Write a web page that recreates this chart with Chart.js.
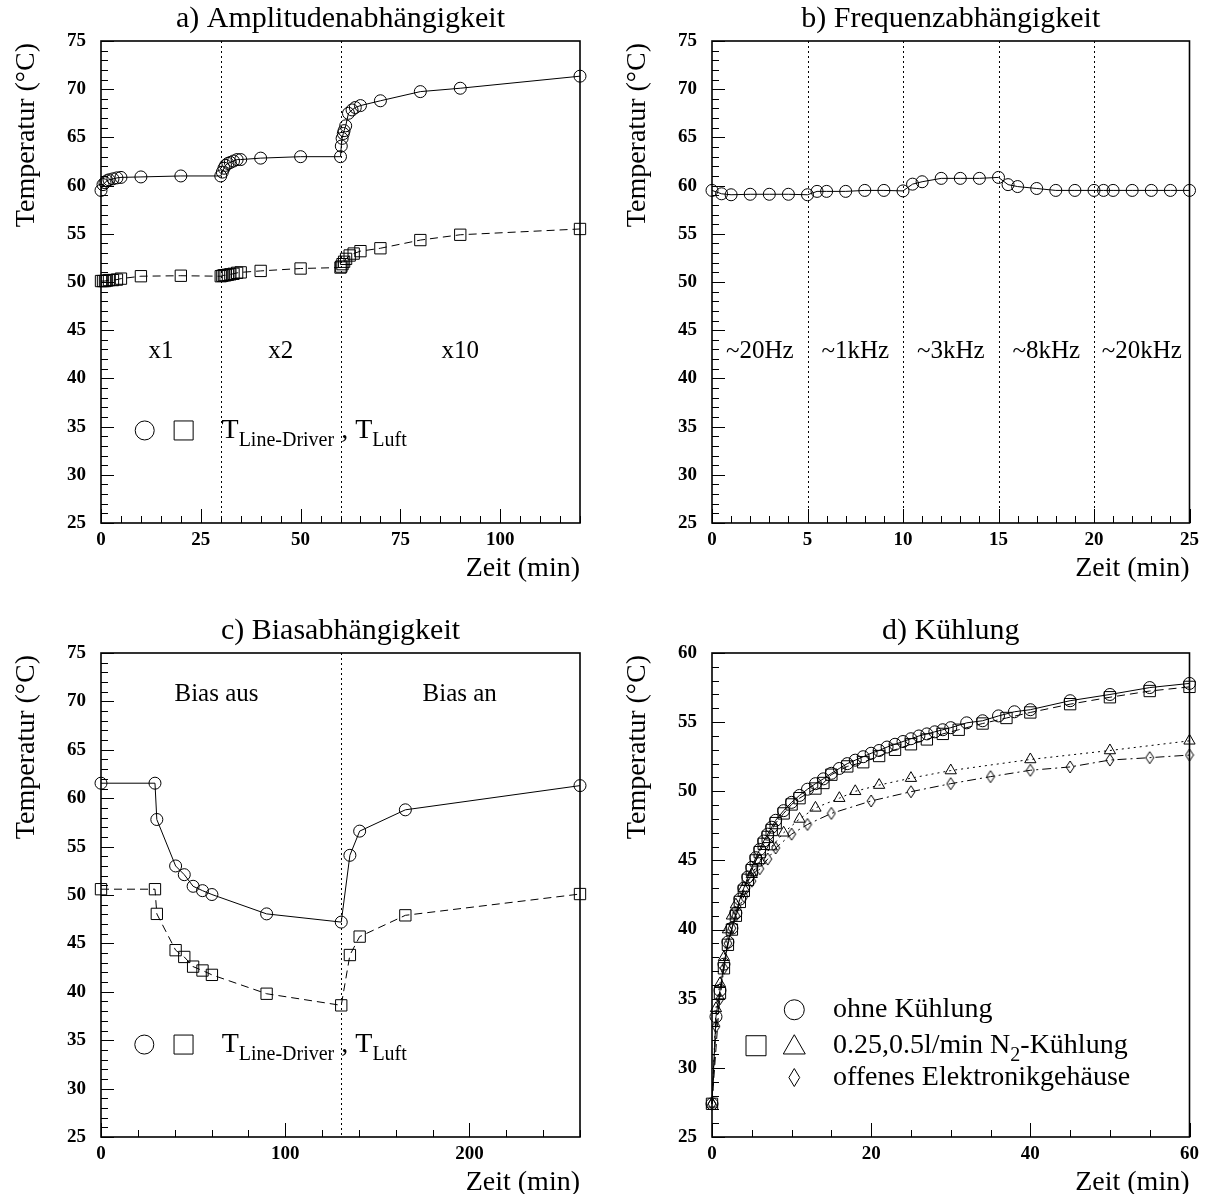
<!DOCTYPE html>
<html><head><meta charset="utf-8">
<script src="https://cdn.jsdelivr.net/npm/chart.js@4.4.1/dist/chart.umd.min.js"></script>
<style>
html,body{margin:0;padding:0;background:#fff;}
#wrap{position:relative;width:1205px;height:1194px;background:#fff;}
canvas{position:absolute;left:0;top:0;}
</style></head><body>
<div id="wrap">
<canvas id="ca" width="1205" height="1194"></canvas>
<canvas id="cb" width="1205" height="1194"></canvas>
<canvas id="cc" width="1205" height="1194"></canvas>
<canvas id="cd" width="1205" height="1194"></canvas>
</div>
<script>
// ---------- Panel a: Amplitudenabhaengigkeit ----------
const aTimeDriver = [0,0.5,1,1.5,2,3,4,5,10,20,30,30.4,30.8,31.2,31.8,32.4,33.2,34.1,35,40,50,60,60.2,60.4,60.7,60.9,61.3,62,62.9,63.7,65,70,80,90,120];
const aTempDriver = [59.5,60.1,60.3,60.5,60.6,60.7,60.8,60.85,60.9,61.0,61.0,61.4,61.8,62.1,62.3,62.4,62.55,62.7,62.7,62.85,63.0,63.0,64.1,64.9,65.4,65.7,66.2,67.5,67.85,68.1,68.3,68.8,69.75,70.1,71.35];
const aTimeLuft = [0,0.5,1,1.5,2,3,4,5,10,20,30,30.4,30.8,31.2,31.8,32.4,33.2,34.1,35,40,50,60,60.2,60.5,60.9,61.4,62.3,63.3,65,70,80,90,120];
const aTempLuft = [50.1,50.1,50.1,50.15,50.2,50.2,50.25,50.35,50.6,50.65,50.6,50.65,50.7,50.7,50.75,50.8,50.85,50.95,51.0,51.15,51.4,51.5,51.6,51.85,52.1,52.4,52.75,52.95,53.2,53.5,54.35,54.9,55.5];
const aPhaseLines = [30,60];
const aPhaseLabels = ['x1','x2','x10'];
const aPhaseLabelX = [15,45,90];

// ---------- Panel b: Frequenzabhaengigkeit ----------
const bTime = [0,0.5,1,2,3,4,5,5.5,6,7,8,9,10,10.5,11,12,13,14,15,15.5,16,17,18,19,20,20.5,21,22,23,24,25];
const bTemp = [59.5,59.15,59.05,59.1,59.1,59.1,59.05,59.4,59.4,59.4,59.5,59.5,59.45,60.15,60.4,60.75,60.75,60.75,60.85,60.1,59.9,59.7,59.5,59.5,59.5,59.5,59.5,59.5,59.5,59.5,59.5];
const bPhaseLines = [5,10,15,20];
const bPhaseLabels = ['~20Hz','~1kHz','~3kHz','~8kHz','~20kHz'];
const bPhaseLabelX = [2.5,7.5,12.5,17.5,22.5];

// ---------- Panel c: Biasabhaengigkeit ----------
const cTime = [0,29.3,30.3,40.5,45.2,50,55.1,60.2,89.9,130.4,135.1,140.4,165.2,260];
const cTempDriver = [61.55,61.55,57.8,53.0,52.1,50.9,50.45,50.05,48.05,47.2,54.1,56.6,58.8,61.3];
const cTempLuft = [50.6,50.6,48.05,44.3,43.6,42.6,42.2,41.75,39.8,38.6,43.8,45.7,47.9,50.1];
const cPhaseLines = [130];
const cPhaseLabels = ['Bias aus','Bias an'];
const cPhaseLabelX = [62.7,194.7];

// ---------- Panel d: Kuehlung ----------
const dTimeOhne = [0,0.5,1,1.5,2,2.5,3,3.5,4,4.5,5,5.5,6,6.5,7,7.5,8,9,10,11,12,13,14,15,16,17,18,19,20,21,22,23,24,25,26,27,28,29,30,32,34,36,38,40,45,50,55,60];
const dTempOhne = [27.4,33.7,35.6,37.5,39.1,40.1,41.2,42.2,43.0,43.8,44.5,45.2,45.8,46.4,46.9,47.4,47.9,48.6,49.2,49.7,50.15,50.55,50.9,51.3,51.65,52.0,52.25,52.5,52.75,52.95,53.2,53.4,53.6,53.8,54.0,54.15,54.3,54.45,54.6,54.95,55.1,55.45,55.75,55.9,56.55,57.0,57.5,57.8];
const dTimeN2a = [0,1,1.5,2,2.5,3,3.5,4,4.5,5,5.5,6,6.5,7,7.5,8,9,10,11,13,14,15,17,19,21,23,25,27,29,31,34,37,40,45,50,55,60];
const dTempN2a = [27.4,35.4,37.2,38.9,40.0,41.0,42.0,42.8,43.6,44.3,45.0,45.6,46.2,46.7,47.2,47.7,48.4,49.05,49.5,50.2,50.6,51.2,51.8,52.1,52.55,53.0,53.4,53.75,54.15,54.45,54.9,55.3,55.7,56.3,56.8,57.25,57.55];
const dTimeN2b = [0,0.5,1,1.5,2,2.5,3,4,5,6,7.5,9,11,13,16,18,21,25,30,40,50,60];
const dTempN2b = [27.4,34.3,36.1,38.0,40.0,41.0,41.8,43.0,44.0,45.0,46.0,47.0,48.0,48.8,49.5,50.0,50.45,50.95,51.5,52.3,52.95,53.65];
const dTimeOffen = [0,0.5,1,1.5,2,2.5,3,4,5,6,7,8,10,12,15,20,25,30,35,40,45,50,55,60];
const dTempOffen = [27.4,33.0,35.0,37.2,39.0,40.1,41.0,42.4,43.5,44.4,45.1,45.9,46.9,47.6,48.4,49.3,49.97,50.55,51.06,51.52,51.76,52.26,52.43,52.62];
const dLegendLabels = ['ohne Kühlung','0.25,0.5l/min N','2','-Kühlung','offenes Elektronikgehäuse'];

const titles = ['a) Amplitudenabhängigkeit','b) Frequenzabhängigkeit','c) Biasabhängigkeit','d) Kühlung'];
const yTitle = 'Temperatur (°C)';
const xTitle = 'Zeit (min)';

// ---------- helpers ----------
const FONT = "'Liberation Serif','Times New Roman',serif";
const W = 1205, H = 1194, YW = 60, XH = 40;
const pts = (xs, ys) => xs.map((x, i) => ({x, y: ys[i]}));

function diamondImg(w, h){
  const c = document.createElement('canvas');
  c.width = w + 2; c.height = h + 2;
  const g = c.getContext('2d');
  g.strokeStyle = '#000'; g.lineWidth = 1;
  g.beginPath();
  g.moveTo(c.width/2, 1); g.lineTo(c.width-1, c.height/2);
  g.lineTo(c.width/2, c.height-1); g.lineTo(1, c.height/2);
  g.closePath(); g.stroke();
  return c;
}
const diamondPt = diamondImg(8, 12);

function series(data, style, radius, dash, extra){
  return Object.assign({
    data, showLine: true, borderColor: '#000', borderWidth: 1, borderDash: dash || [],
    pointStyle: style, pointRadius: radius, pointBorderColor: '#000', pointBorderWidth: 1,
    pointBackgroundColor: 'rgba(0,0,0,0)', tension: 0, clip: false
  }, extra || {});
}

function drawMarker(ctx, kind, x, y, s){
  ctx.beginPath();
  if (kind === 'circle') ctx.arc(x, y, s, 0, Math.PI*2);
  else if (kind === 'square') ctx.rect(x - s, y - s, 2*s, 2*s);
  else if (kind === 'triangle') { ctx.moveTo(x, y - s); ctx.lineTo(x + s*1.0, y + s*0.75); ctx.lineTo(x - s*1.0, y + s*0.75); ctx.closePath(); }
  else if (kind === 'diamond') { ctx.moveTo(x, y - s); ctx.lineTo(x + s*0.6, y); ctx.lineTo(x, y + s); ctx.lineTo(x - s*0.6, y); ctx.closePath(); }
  ctx.stroke();
}

function drawRich(ctx, parts, x, y){
  let cx = x;
  parts.forEach(p => {
    ctx.font = (p.sub ? 20 : 28) + 'px ' + FONT;
    ctx.fillText(p.t, cx, p.sub ? y + 10 : y);
    cx += ctx.measureText(p.t).width;
  });
}

const decorPlugin = {
  id: 'decor',
  beforeDatasetsDraw(chart, args, o){
    const {ctx, chartArea: a, scales: {x}} = chart;
    ctx.save();
    ctx.strokeStyle = '#000'; ctx.lineWidth = 1; ctx.setLineDash([2, 3]);
    (o.vlines || []).forEach(v => {
      const px = Math.round(x.getPixelForValue(v)) + 0.5;
      ctx.beginPath(); ctx.moveTo(px, a.top); ctx.lineTo(px, a.bottom); ctx.stroke();
    });
    ctx.restore();
  },
  afterDatasetsDraw(chart, args, o){
    const {ctx, chartArea: a, scales: {x, y}} = chart;
    ctx.save();
    ctx.strokeStyle = '#000'; ctx.fillStyle = '#000'; ctx.setLineDash([]);
    // frame
    ctx.lineWidth = 1.6;
    ctx.strokeRect(a.left, a.top, a.right - a.left, a.bottom - a.top);
    // ticks
    ctx.lineWidth = 1;
    const nY = Math.round((y.max - y.min) / o.yMinor);
    for (let i = 0; i <= nY; i++){
      const v = y.min + i * o.yMinor;
      const maj = Math.abs(v / o.yMajor - Math.round(v / o.yMajor)) < 1e-6;
      const py = Math.round(y.getPixelForValue(v)) + 0.5;
      ctx.beginPath(); ctx.moveTo(a.left, py); ctx.lineTo(a.left + (maj ? 13 : 7), py); ctx.stroke();
    }
    const nX = Math.round((x.max - x.min) / o.xMinor);
    for (let i = 0; i <= nX; i++){
      const v = x.min + i * o.xMinor;
      const maj = Math.abs(v / o.xMajor - Math.round(v / o.xMajor)) < 1e-6;
      const px = Math.round(x.getPixelForValue(v)) + 0.5;
      ctx.beginPath(); ctx.moveTo(px, a.bottom); ctx.lineTo(px, a.bottom - (maj ? 14 : 7)); ctx.stroke();
    }
    // annotation texts
    ctx.font = '25px ' + FONT; ctx.textAlign = 'center'; ctx.textBaseline = 'middle';
    (o.labels || []).forEach((t, i) => {
      ctx.fillText(t, x.getPixelForValue(o.labelX[i]), y.getPixelForValue(o.labelY));
    });
    // legends
    ctx.textAlign = 'left'; ctx.textBaseline = 'middle';
    if (o.legendT){
      const L = o.legendT, ly = y.getPixelForValue(L.y);
      drawMarker(ctx, 'circle', x.getPixelForValue(L.cx), ly, 9.5);
      drawMarker(ctx, 'square', x.getPixelForValue(L.sx), ly, 9.5);
      drawRich(ctx, [{t:'T'},{t:'Line-Driver',sub:true},{t:' , T'},{t:'Luft',sub:true}], x.getPixelForValue(L.tx), ly);
    }
    if (o.legendD){
      const L = o.legendD;
      const y1 = y.getPixelForValue(L.y[0]), y2 = y.getPixelForValue(L.y[1]), y3 = y.getPixelForValue(L.y[2]);
      const mx = x.getPixelForValue(L.mx), sx = x.getPixelForValue(L.sx), tx = x.getPixelForValue(L.tx);
      drawMarker(ctx, 'circle', mx, y1, 10);
      drawMarker(ctx, 'square', sx, y2, 10);
      drawMarker(ctx, 'triangle', mx, y2, 11);
      drawMarker(ctx, 'diamond', mx, y3, 9);
      drawRich(ctx, [{t:dLegendLabels[0]}], tx, y1);
      drawRich(ctx, [{t:dLegendLabels[1]},{t:dLegendLabels[2],sub:true},{t:dLegendLabels[3]}], tx, y2);
      drawRich(ctx, [{t:dLegendLabels[4]}], tx, y3);
    }
    // titles
    ctx.font = '30px ' + FONT; ctx.textAlign = 'center'; ctx.textBaseline = 'middle';
    ctx.fillText(o.title, (a.left + a.right) / 2, a.top - 22);
    ctx.font = '28px ' + FONT; ctx.textAlign = 'right';
    ctx.fillText(xTitle, a.right, a.bottom + 46);
    ctx.save();
    ctx.translate(a.left - 74, a.top + 2);
    ctx.rotate(-Math.PI / 2);
    ctx.textAlign = 'right'; ctx.textBaseline = 'middle';
    ctx.fillText(yTitle, 0, 0);
    ctx.restore();
    ctx.restore();
  }
};

function makeChart(id, area, xr, yr, datasets, decor){
  const tickFont = {family: FONT, weight: 'bold', size: 19};
  return new Chart(document.getElementById(id), {
    type: 'scatter',
    data: {datasets},
    options: {
      responsive: false, animation: false, events: [],
      layout: {padding: {left: area.l - YW, top: area.t, right: W - area.r, bottom: H - area.b - XH}},
      plugins: {legend: {display: false}, tooltip: {enabled: false}, decor},
      scales: {
        x: {type: 'linear', min: xr.min, max: xr.max, afterFit: s => { s.height = XH; },
            grid: {display: false, drawTicks: false}, border: {display: false},
            ticks: {stepSize: xr.major, includeBounds: false, autoSkip: false, maxRotation: 0, color: '#000', font: tickFont, padding: 6}},
        y: {type: 'linear', min: yr.min, max: yr.max, afterFit: s => { s.width = YW; },
            grid: {display: false, drawTicks: false}, border: {display: false},
            ticks: {stepSize: yr.major, includeBounds: false, autoSkip: false, color: '#000', font: tickFont, padding: 15}}
      }
    },
    plugins: [decorPlugin]
  });
}

const areaA = {l: 101, r: 580, t: 41, b: 523};
const areaB = {l: 712, r: 1190, t: 41, b: 523};
const areaC = {l: 101, r: 580, t: 653, b: 1137};
const areaD = {l: 712, r: 1190, t: 653, b: 1137};

makeChart('ca', areaA, {min: 0, max: 120, major: 25}, {min: 25, max: 75, major: 5}, [
  series(pts(aTimeDriver, aTempDriver), 'circle', 6),
  series(pts(aTimeLuft, aTempLuft), 'rect', 8, [8, 5])
], {title: titles[0], xMinor: 5, xMajor: 25, yMinor: 1, yMajor: 5, vlines: aPhaseLines,
    labels: aPhaseLabels, labelX: aPhaseLabelX, labelY: 42.8,
    legendT: {cx: 10.95, sx: 20.7, tx: 30.2, y: 34.6}});

makeChart('cb', areaB, {min: 0, max: 25, major: 5}, {min: 25, max: 75, major: 5}, [
  series(pts(bTime, bTemp), 'circle', 6)
], {title: titles[1], xMinor: 1, xMajor: 5, yMinor: 1, yMajor: 5, vlines: bPhaseLines,
    labels: bPhaseLabels, labelX: bPhaseLabelX, labelY: 42.8});

makeChart('cc', areaC, {min: 0, max: 260, major: 100}, {min: 25, max: 75, major: 5}, [
  series(pts(cTime, cTempDriver), 'circle', 6),
  series(pts(cTime, cTempLuft), 'rect', 8, [8, 5])
], {title: titles[2], xMinor: 20, xMajor: 100, yMinor: 1, yMajor: 5, vlines: cPhaseLines,
    labels: cPhaseLabels, labelX: cPhaseLabelX, labelY: 70.7,
    legendT: {cx: 23.5, sx: 44.8, tx: 65.5, y: 34.55}});

makeChart('cd', areaD, {min: 0, max: 60, major: 20}, {min: 25, max: 60, major: 5}, [
  series(pts(dTimeOhne, dTempOhne), 'circle', 6),
  series(pts(dTimeN2a, dTempN2a), 'rect', 8, [8, 5]),
  series(pts(dTimeN2b, dTempN2b), 'triangle', 6.5, [2, 4]),
  series(pts(dTimeOffen, dTempOffen), diamondPt, 6, [9, 4, 2, 4])
], {title: titles[3], xMinor: 5, xMajor: 20, yMinor: 1, yMajor: 5,
    legendD: {mx: 10.34, sx: 5.53, tx: 15.2, y: [34.2, 31.6, 29.3]}});
</script>
</body></html>
